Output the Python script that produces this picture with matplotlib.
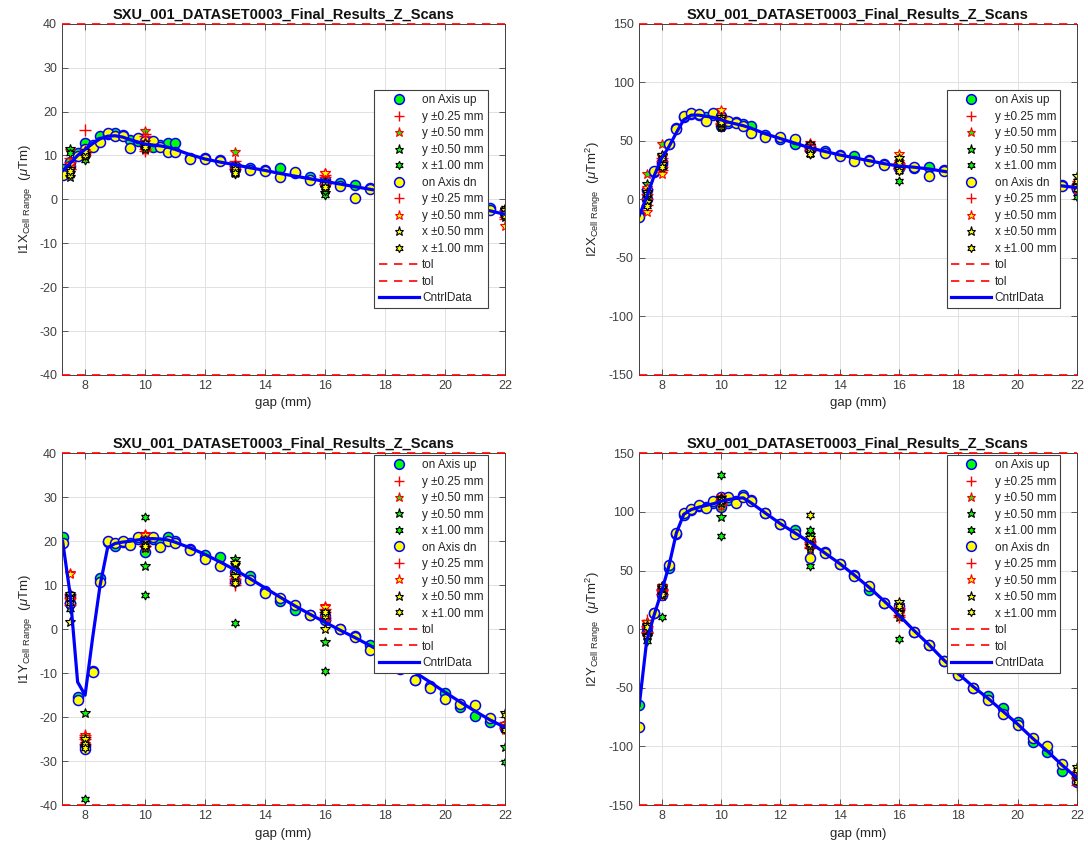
import matplotlib
matplotlib.use('Agg')
import matplotlib.pyplot as plt
from matplotlib.lines import Line2D

plt.rcParams['font.family'] = ['Liberation Sans', 'DejaVu Sans']
plt.rcParams['mathtext.fontset'] = 'custom'
plt.rcParams['mathtext.rm'] = 'Liberation Sans'
plt.rcParams['mathtext.it'] = 'Liberation Sans:italic'
plt.rcParams['axes.unicode_minus'] = False

# gaps of the on-axis scans (mm)
gap = [7.25, 7.5, 7.75, 8, 8.25, 8.5, 8.75, 9, 9.25, 9.5, 9.75, 10, 10.25, 10.5, 10.75, 11,
       11.5, 12, 12.5, 13, 13.5, 14, 14.5, 15, 15.5, 16, 16.5, 17, 17.5, 18, 18.5, 19, 19.5,
       20, 20.5, 21, 21.5, 22]
# gaps of the off-axis scans (two points each: + and - offset)
off_gap = [7.5, 7.5, 8, 8, 10, 10, 13, 13, 16, 16, 22, 22]

# ---- I1X ----
i1x_up = [7.0, 8.5, 10.5, 12.9, 12.5, 14.4, 14.8, 15.2, 14.6, 13.5, 13.2, 12.3, 12.0, 12.3, 12.8, 12.8,
          9.5, 9.5, 8.9, 7.5, 7.2, 6.6, 7.2, 6.0, 5.2, 4.5, 3.8, 3.2, 2.7, 2.2, 1.6, 1.0, 0.5,
          -0.2, -0.8, -1.4, -2.0, -2.6]
i1x_dn = [5.5, 7.5, 9.8, 11.5, 12.0, 13.0, 15.2, 14.5, 14.4, 11.6, 14.0, 13.3, 13.4, 12.0, 10.7, 10.7,
          9.2, 9.2, 8.7, 7.0, 6.7, 6.5, 5.0, 6.2, 4.4, 3.8, 3.0, 0.3, 2.4, 1.8, 1.3, 0.8, 0.2,
          -0.4, -1.0, -1.6, -2.4, -3.2]
i1x_ctrl = [6.5, 8.2, 10.0, 11.4, 12.7, 13.8, 14.4, 14.5, 14.2, 13.6, 13.1, 12.6, 12.4, 12.2, 11.9, 11.4,
            10.2, 9.2, 8.5, 7.9, 7.2, 6.6, 5.9, 5.3, 4.7, 4.1, 3.5, 2.9, 2.3, 1.7, 1.1, 0.5, -0.1,
            -0.7, -1.3, -1.9, -2.6, -3.4]
i1x_y25_up = [9.5, 7.0, 15.8, 10.5, 14.8, 11.5, 8.7, 7.5, 5.5, 3.5, -2.5, -4.0]
i1x_y50_up = [11.0, 7.5, 10.6, 9.5, 15.5, 12.0, 10.8, 7.2, 5.9, 3.0, -2.2, -3.5]
i1x_x50_up = [11.4, 6.0, 9.5, 10.0, 12.5, 11.8, 6.5, 6.0, 2.5, 1.5, -2.5, -3.5]
i1x_x100_up = [10.5, 5.8, 9.0, 10.5, 13.0, 11.5, 5.8, 6.2, 1.0, 2.0, -3.0, -2.0]
i1x_y25_dn = [8.5, 7.0, 11.0, 10.0, 14.5, 11.0, 8.0, 7.0, 5.2, 3.5, -3.0, -4.5]
i1x_y50_dn = [7.3, 8.0, 10.0, 11.0, 11.2, 13.0, 7.5, 6.8, 6.0, 4.0, -6.1, -3.0]
i1x_x50_dn = [5.0, 7.0, 10.3, 9.8, 12.5, 11.5, 7.6, 6.5, 4.0, 2.5, -2.5, -4.0]
i1x_x100_dn = [5.5, 6.5, 10.0, 11.0, 12.8, 12.0, 7.0, 6.0, 3.5, 2.8, -3.2, -3.8]

# ---- I2X ----
i2x_up = [-13.5, 0, 23, 30, 47, 61, 70, 73, 72, 70, 72, 62.7, 65, 66, 64, 62.7,
          55, 52, 47, 46, 41, 38, 37, 34, 30, 28, 27, 28, 25, 23, 21, 19, 17,
          16, 14, 13, 12, 10]
i2x_dn = [-15, 7.6, 24.6, 32, 47, 60, 71, 74, 72.7, 67, 74, 71, 67, 65, 62.7, 57,
          53, 53, 51.4, 43, 40, 37, 33, 33, 29, 27, 28, 20, 24, 21, 19, 18, 16,
          15, 13, 12, 11, 9]
i2x_ctrl = [-14, 2, 20, 35, 45, 57, 68, 72, 72, 71, 70, 68, 66, 64.5, 63, 61,
            56, 52, 48, 44, 41, 38, 35.5, 33, 30.5, 28.5, 27.5, 26, 24, 22, 20.5, 19, 17.5,
            16, 14.5, 13, 11.5, 10]
i2x_y25_up = [9, 0, 35, 28, 68, 64, 45, 42, 30, 27, 12, 9]
i2x_y50_up = [22, 8, 47, 30, 66, 62, 48, 44, 32, 28, 11, 8]
i2x_x50_up = [13, 2, 37, 25, 62, 66, 46, 40, 25, 30, 8, 12]
i2x_x100_up = [5, -4, 27, 38, 62, 64, 39, 47, 16, 33, 2, 14]
i2x_y25_dn = [-5, 5, 33, 25, 71, 65, 44, 41, 31, 26, 10, 13]
i2x_y50_dn = [-11, 10, 22, 36, 76, 68, 45, 42, 39, 29, 14, 9]
i2x_x50_dn = [-2, 6, 38, 30, 70, 65, 43, 40, 35, 26, 20, 11]
i2x_x100_dn = [5, -6, 35, 28, 69, 66, 42, 39, 31, 24, 16, 9]

# ---- I1Y ----
i1y_up = [20.9, 7.5, -15.5, -26.5, -9.5, 11.6, 19.8, 18.9, 19.8, 19.6, 20.5, 17.5, 20.5, 19.7, 21.0, 20.0,
          18.2, 16.9, 16.5, 13.0, 12.0, 8.6, 6.3, 4.4, 3.3, 2.0, 0.0, -1.6, -3.6, -5.5, -8.5, -11.5, -13.0,
          -14.4, -17.7, -19.7, -21.0, -22.5]
i1y_dn = [19.5, 6.0, -16.2, -27.3, -9.7, 10.7, 20.1, 19.5, 20.1, 19.2, 20.9, 20.5, 20.9, 18.6, 20.1, 19.5,
          18.0, 15.9, 14.4, 11.0, 11.1, 8.3, 7.1, 5.5, 3.3, 3.0, 0.0, -1.8, -4.8, -5.0, -9.0, -11.5, -13.4,
          -15.9, -17.0, -17.2, -20.2, -22.0]
i1y_ctrl = [20.0, 8.0, -12.0, -15.0, -2.0, 10.0, 18.5, 19.5, 19.8, 20.0, 20.3, 20.5, 20.6, 20.5, 20.3, 19.8,
            18.5, 17.0, 15.3, 13.5, 11.5, 9.4, 7.3, 5.3, 3.4, 1.6, -0.2, -1.9, -3.7, -5.6, -7.6, -9.8, -12.0,
            -14.3, -16.5, -18.6, -20.6, -22.3]
i1y_y25_up = [6.0, 8.0, -25.0, -24.0, 21.0, 19.0, 12.0, 10.5, 4.5, 2.5, -22.0, -21.0]
i1y_y50_up = [12.7, 7.0, -24.0, -25.5, 21.7, 18.8, 12.5, 11.0, 5.3, 3.0, -21.5, -23.0]
i1y_x50_up = [5.0, 7.5, -19.0, -27.0, 14.3, 19.5, 16.0, 14.5, -3.0, 4.0, -26.8, -22.0]
i1y_x100_up = [6.0, 4.5, -38.5, -26.0, 25.5, 7.8, 1.3, 15.0, -9.5, 3.5, -30.3, -22.5]
i1y_y25_dn = [7.0, 5.5, -26.0, -24.5, 20.5, 19.0, 11.5, 10.0, 4.0, 2.0, -21.5, -22.5]
i1y_y50_dn = [12.5, 6.5, -24.5, -26.0, 21.5, 18.5, 11.0, 12.0, 5.0, 2.5, -21.5, -22.0]
i1y_x50_dn = [1.7, 8.0, -25.0, -26.5, 20.0, 18.5, 15.0, 12.0, 0.0, 3.5, -19.1, -22.5]
i1y_x100_dn = [7.0, 6.0, -26.0, -27.0, 20.5, 19.0, 10.5, 13.5, 3.0, 4.0, -19.5, -23.0]

# ---- I2Y ----
i2y_up = [-65, -2, 14, 33, 52, 81, 97, 102, 105, 104, 108, 104.2, 110, 109, 114.2, 110,
          99, 90, 85, 75, 66, 56, 46, 33.6, 22, 17, -2, -13.4, -27, -38, -50, -57, -67,
          -79, -96, -105, -120.6, -127]
i2y_dn = [-83, 2, 14.2, 29.4, 55, 81.7, 99.4, 102.8, 105.7, 103.7, 109.4, 112.3, 112.3, 108, 112.3, 109.4,
          99.4, 89.4, 80.8, 60.8, 65, 56, 45.7, 36.5, 22.3, 20, -2, -13.4, -27, -39, -50, -60.5, -72,
          -82, -93, -100, -115, -130.6]
i2y_ctrl = [-65, -10, 12, 32, 54, 82, 98, 102, 104, 105.5, 107, 109, 110.5, 111.5, 112, 108,
            99, 90, 82, 74, 65, 56, 46, 35.5, 24, 12, -1, -13, -26, -38, -49, -59, -70,
            -81, -93, -104, -116, -127]
i2y_y25_up = [8, -3, 34, 30, 110, 106, 69.4, 73, 10, 16, -127, -124]
i2y_y50_up = [5, -4, 36.5, 32, 108, 105, 76, 70, 18, 13, -123, -128]
i2y_x50_up = [-7, 3, 36, 28, 96, 112, 80, 68, 21, 10, -125, -130]
i2y_x100_up = [-10, 6, 10.5, 37, 131.4, 79.4, 53.6, 85, -8.6, 19, -128, -122]
i2y_y25_dn = [3, -2, 33, 30, 110, 108, 70, 74, 12, 18, -133, -126]
i2y_y50_dn = [6, 0, 37, 31, 110, 113, 72, 75, 12.7, 17, -123, -129]
i2y_x50_dn = [-5, 4, 35, 29, 108, 112, 78, 71, 23.4, 15, -117.7, -127]
i2y_x100_dn = [2, -6, 37, 30, 111, 109, 97.7, 73, 20, 14, -120, -130.6]

labels = ['on Axis up', 'y \u00b10.25 mm', 'y \u00b10.50 mm', 'y \u00b10.50 mm', 'x \u00b11.00 mm',
          'on Axis dn', 'y \u00b10.25 mm', 'y \u00b10.50 mm', 'x \u00b10.50 mm', 'x \u00b11.00 mm',
          'tol', 'tol', 'CntrlData']

title = 'SXU_001_DATASET0003_Final_Results_Z_Scans'
GREEN = (0, 1, 0)
YELLOW = (1, 1, 0)
HEX = (6, 1, 0)
txt = '#262626'


def draw(ax, up, dn, ctrl, offs, tol, yticks, ylabel, legloc):
    y25u, y50u, x50u, x100u, y25d, y50d, x50d, x100d = offs
    ax.plot(gap, up, 'o', ms=7.2, mfc=GREEN, mec='b', mew=1.1, ls='none')
    ax.plot(off_gap, y25u, '+', ms=8, mec='r', mew=1.0, ls='none')
    ax.plot(off_gap, y50u, '*', ms=7, mfc=GREEN, mec='r', mew=0.8, ls='none')
    ax.plot(off_gap, x50u, '*', ms=7, mfc=GREEN, mec='k', mew=0.8, ls='none')
    ax.plot(off_gap, x100u, marker=HEX, ms=6.5, mfc=GREEN, mec='k', mew=0.8, ls='none')
    ax.plot(gap, dn, 'o', ms=7.2, mfc=YELLOW, mec='b', mew=1.1, ls='none')
    ax.plot(off_gap, y25d, '+', ms=8, mec='r', mew=1.0, ls='none')
    ax.plot(off_gap, y50d, '*', ms=7, mfc=YELLOW, mec='r', mew=0.8, ls='none')
    ax.plot(off_gap, x50d, '*', ms=7, mfc=YELLOW, mec='k', mew=0.8, ls='none')
    ax.plot(off_gap, x100d, marker=HEX, ms=6.5, mfc=YELLOW, mec='k', mew=0.8, ls='none')
    ax.axhline(tol, color='r', ls=(0, (5, 4)), lw=1.2, clip_on=False, zorder=5)
    ax.axhline(-tol, color='r', ls=(0, (5, 4)), lw=1.2, clip_on=False, zorder=5)
    ax.plot(gap, ctrl, '-', color='b', lw=2.3)

    ax.set_xlim(7.23, 22)
    ax.set_ylim(-tol, tol)
    ax.set_xticks([8, 10, 12, 14, 16, 18, 20, 22])
    ax.set_yticks(yticks)
    ax.grid(True, color='#dcdcdc', lw=0.6)
    ax.set_axisbelow(True)
    ax.tick_params(direction='in', top=True, right=True, labelsize=9, colors='#404040',
                   length=4, width=0.6)
    for s in ax.spines.values():
        s.set_color('#404040')
        s.set_linewidth(0.7)
    ax.set_xlabel('gap (mm)', fontsize=9.5, color=txt)
    ax.set_ylabel(ylabel, fontsize=9.5, color=txt)
    ax.set_title(title, fontsize=10.5, fontweight='bold', color='#111111', pad=4)

    handles = [
        Line2D([], [], marker='o', ms=7, mfc=GREEN, mec='b', mew=1.1, ls='none'),
        Line2D([], [], marker='+', ms=7.5, mec='r', mew=1.0, ls='none'),
        Line2D([], [], marker='*', ms=6.5, mfc=GREEN, mec='r', mew=0.8, ls='none'),
        Line2D([], [], marker='*', ms=6.5, mfc=GREEN, mec='k', mew=0.8, ls='none'),
        Line2D([], [], marker=HEX, ms=6, mfc=GREEN, mec='k', mew=0.8, ls='none'),
        Line2D([], [], marker='o', ms=7, mfc=YELLOW, mec='b', mew=1.1, ls='none'),
        Line2D([], [], marker='+', ms=7.5, mec='r', mew=1.0, ls='none'),
        Line2D([], [], marker='*', ms=6.5, mfc=YELLOW, mec='r', mew=0.8, ls='none'),
        Line2D([], [], marker='*', ms=6.5, mfc=YELLOW, mec='k', mew=0.8, ls='none'),
        Line2D([], [], marker=HEX, ms=6, mfc=YELLOW, mec='k', mew=0.8, ls='none'),
        Line2D([], [], color='r', ls=(0, (5, 4)), lw=1.2),
        Line2D([], [], color='r', ls=(0, (5, 4)), lw=1.2),
        Line2D([], [], color='b', lw=2.3),
    ]
    opts = dict(borderaxespad=0, labelspacing=0.38, handlelength=3.4, handletextpad=0.3,
                borderpad=0.35, fontsize=8.5, fancybox=False, framealpha=1)
    if legloc == 'center':
        leg = ax.legend(handles, labels, loc='center right', bbox_to_anchor=(0.962, 0.5), **opts)
    else:
        leg = ax.legend(handles, labels, loc='upper right', bbox_to_anchor=(0.962, 0.995), **opts)
    leg.get_frame().set_edgecolor('#404040')
    leg.get_frame().set_linewidth(0.8)
    for t in leg.get_texts():
        t.set_color(txt)
    leg.set_zorder(10)


fig = plt.figure(figsize=(10.88, 8.52), dpi=100)
ax1 = fig.add_axes([0.057, 0.560, 0.407, 0.412])
ax2 = fig.add_axes([0.587, 0.560, 0.403, 0.412])
ax3 = fig.add_axes([0.057, 0.055, 0.407, 0.413])
ax4 = fig.add_axes([0.587, 0.055, 0.403, 0.413])

draw(ax1, i1x_up, i1x_dn, i1x_ctrl,
     [i1x_y25_up, i1x_y50_up, i1x_x50_up, i1x_x100_up, i1x_y25_dn, i1x_y50_dn, i1x_x50_dn, i1x_x100_dn],
     40, [-40, -30, -20, -10, 0, 10, 20, 30, 40], r'I1X$_{\mathrm{Cell\ Range}}$  ($\mu$Tm)', 'center')
draw(ax2, i2x_up, i2x_dn, i2x_ctrl,
     [i2x_y25_up, i2x_y50_up, i2x_x50_up, i2x_x100_up, i2x_y25_dn, i2x_y50_dn, i2x_x50_dn, i2x_x100_dn],
     150, [-150, -100, -50, 0, 50, 100, 150], r'I2X$_{\mathrm{Cell\ Range}}$  ($\mu$Tm$^2$)', 'center')
draw(ax3, i1y_up, i1y_dn, i1y_ctrl,
     [i1y_y25_up, i1y_y50_up, i1y_x50_up, i1y_x100_up, i1y_y25_dn, i1y_y50_dn, i1y_x50_dn, i1y_x100_dn],
     40, [-40, -30, -20, -10, 0, 10, 20, 30, 40], r'I1Y$_{\mathrm{Cell\ Range}}$  ($\mu$Tm)', 'upper')
draw(ax4, i2y_up, i2y_dn, i2y_ctrl,
     [i2y_y25_up, i2y_y50_up, i2y_x50_up, i2y_x100_up, i2y_y25_dn, i2y_y50_dn, i2y_x50_dn, i2y_x100_dn],
     150, [-150, -100, -50, 0, 50, 100, 150], r'I2Y$_{\mathrm{Cell\ Range}}$  ($\mu$Tm$^2$)', 'upper')

fig.savefig('out.png', dpi=100, facecolor='white')
